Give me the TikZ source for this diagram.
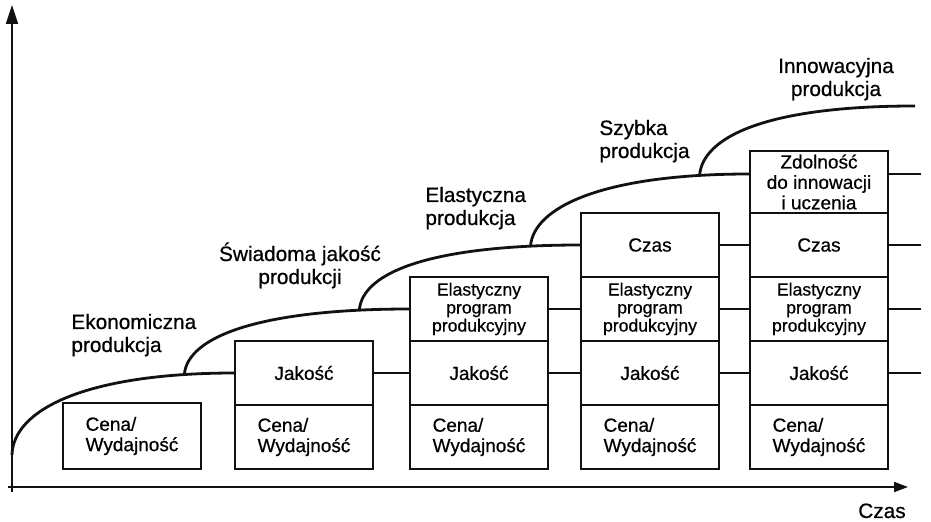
\documentclass[tikz,border=0pt]{standalone}
\usepackage{fontspec}
\setmainfont{Liberation Sans}[FakeBold=0.6]
\usetikzlibrary{arrows.meta, positioning}
\definecolor{inkblack}{HTML}{111111}

\begin{document}
\begin{tikzpicture}[x=0.5pt, y=-0.5pt,
    cell/.style={draw=inkblack, line width=1.3pt, minimum width=69pt, minimum height=32pt, inner sep=0pt, outer sep=0pt, align=center, font=\fontsize{9.5}{10.2}\selectfont},
    tight/.style={font=\fontsize{8.8}{9}\selectfont},
    stagetext/.style={inner sep=0pt, font=\fontsize{10.4}{11.5}\selectfont},
    rowlink/.style={draw=inkblack, line width=1pt},
    stairline/.style={draw=inkblack, line width=1.4pt},
    axis/.style={draw=inkblack, line width=1pt}]
  \useasboundingbox (0,0) rectangle (931,522);

  % Osie
  \coordinate (ybot) at (12,492);
  \coordinate (ytop) at (12,5);
  \coordinate (xbeg) at (8,487);
  \coordinate (xend) at (908,487);
  \draw[axis, -{Triangle[length=9.5pt, width=6pt]}] (ybot) -- (ytop);
  \draw[axis, -{Triangle[length=7pt, width=5pt]}] (xbeg) -- (xend);
  \node[stagetext, anchor=base] (osczas) at (882,518) {Czas};

  % Kolumna 1
  \node[cell, align=left, minimum height=33pt] (k1cena) at (132,436) {Cena/\\Wydajność};

  % Kolumna 2
  \node[cell, align=left] (k2cena) at (304,437) {Cena/\\Wydajność};
  \node[cell, above=0pt of k2cena] (k2jak) {Jakość};

  % Kolumna 3
  \node[cell, align=left] (k3cena) at (479,437) {Cena/\\Wydajność};
  \node[cell, above=0pt of k3cena] (k3jak) {Jakość};
  \node[cell, tight, above=0pt of k3jak] (k3ela) {Elastyczny\\program\\produkcyjny};

  % Kolumna 4
  \node[cell, align=left] (k4cena) at (650,437) {Cena/\\Wydajność};
  \node[cell, above=0pt of k4cena] (k4jak) {Jakość};
  \node[cell, tight, above=0pt of k4jak] (k4ela) {Elastyczny\\program\\produkcyjny};
  \node[cell, above=0pt of k4ela] (k4cza) {Czas};

  % Kolumna 5
  \node[cell, align=left] (k5cena) at (819,437) {Cena/\\Wydajność};
  \node[cell, above=0pt of k5cena] (k5jak) {Jakość};
  \node[cell, tight, above=0pt of k5jak] (k5ela) {Elastyczny\\program\\produkcyjny};
  \node[cell, above=0pt of k5ela] (k5cza) {Czas};
  \node[cell, minimum height=31pt, above=0pt of k5cza] (k5zdo) {Zdolność\\do innowacji\\i uczenia};

  % Połączenia między kolumnami
  \draw[rowlink] (k2jak) -- (k3jak);
  \draw[rowlink] (k3jak) -- (k4jak);
  \draw[rowlink] (k4jak) -- (k5jak);
  \draw[rowlink] (k3ela) -- (k4ela);
  \draw[rowlink] (k4ela) -- (k5ela);
  \draw[rowlink] (k4cza) -- (k5cza);
  \draw[rowlink] (k5jak.east) -- +(33,0);
  \draw[rowlink] (k5ela.east) -- +(33,0);
  \draw[rowlink] (k5cza.east) -- +(33,0);
  \draw[rowlink] ([yshift=4pt]k5zdo.east) -- +(33,0);

  % Krzywa rozwoju
  \coordinate (start) at (12,455);
  \coordinate (koniec) at (915,106);
  \draw[stairline] (start) .. controls +(1,-45) and +(-150,0) .. (k2jak.west) coordinate[pos=0.88] (b2);
  \draw[stairline] (b2) .. controls +(3,-38) and +(-150,0) .. (k3ela.west) coordinate[pos=0.88] (b3);
  \draw[stairline] (b3) .. controls +(3,-38) and +(-150,0) .. (k4cza.west) coordinate[pos=0.88] (b4);
  \draw[stairline] (b4) .. controls +(3,-38) and +(-150,0) .. ([yshift=4pt]k5zdo.west) coordinate[pos=0.88] (b5);
  \draw[stairline] (b5) .. controls +(3,-38) and +(-150,0) .. (koniec);

  % Etapy
  \node[stagetext, align=left, anchor=base west] (ekon) at (71,352) {Ekonomiczna\\produkcja};
  \node[stagetext, align=center, anchor=base] (swiad) at (300,284) {Świadoma jakość\\produkcji};
  \node[stagetext, align=left, anchor=base west] (elast) at (425,225) {Elastyczna\\produkcja};
  \node[stagetext, align=left, anchor=base west] (szyb) at (599,158) {Szybka\\produkcja};
  \node[stagetext, align=center, anchor=base] (innow) at (836,96) {Innowacyjna\\produkcja};
\end{tikzpicture}
\end{document}
